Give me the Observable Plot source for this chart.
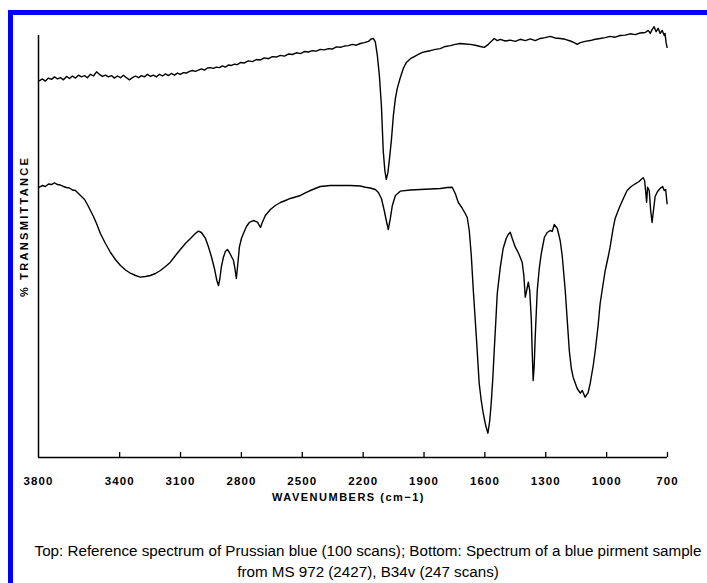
<!DOCTYPE html>
<html><head><meta charset="utf-8">
<script src="https://cdn.jsdelivr.net/npm/d3@7"></script>
<script src="https://cdn.jsdelivr.net/npm/@observablehq/plot@0.6"></script>
<style>
html,body{margin:0;padding:0;width:707px;height:583px;overflow:hidden;background:#fff;}
#frame{position:absolute;left:8px;top:9.5px;width:900px;height:900px;border-top:5px solid #0000ff;border-left:5px solid #0000ff;}
#chart{position:absolute;left:0;top:0;}
#caption{position:absolute;left:30px;width:676px;top:540px;text-align:center;font:15.2px/21px "Liberation Sans",Arial,sans-serif;white-space:nowrap;color:#000;}
</style></head><body>
<div id="frame"></div>
<div id="chart"></div>
<div id="caption">Top: Reference spectrum of Prussian blue (100 scans); Bottom: Spectrum of a blue pirment sample<br>from MS 972 (2427), B34v (247 scans)</div>
<script>
const xTicks = [3800,3400,3100,2800,2500,2200,1900,1600,1300,1000,700];
const xLabel = "WAVENUMBERS (cm\u22121)";
const yLabel = "% TRANSMITTANCE";

const topWavenumbers = [3795,3780,3766,3751,3736,3721,3706,3692,3677,3662,3647,3633,3618,3603,3588,3573,3559,3544,3529,3514,3500,3485,3470,3455,3440,3426,3411,3396,3381,3367,3352,3337,3322,3307,3293,3278,3263,3248,3234,3219,3204,3189,3174,3160,3145,3130,3115,3101,3086,3071,3056,3041,3027,3012,2997,2982,2967,2953,2938,2923,2908,2894,2879,2864,2849,2834,2820,2805,2785,2766,2746,2726,2706,2687,2667,2647,2628,2608,2588,2569,2549,2529,2509,2490,2470,2450,2431,2411,2391,2371,2352,2332,2312,2293,2273,2253,2234,2214,2194,2174,2160,2150,2140,2130,2120,2110,2101,2093,2086,2078,2071,2061,2051,2041,2032,2017,2002,1987,1967,1948,1928,1908,1889,1869,1844,1820,1795,1770,1746,1721,1696,1672,1647,1623,1603,1583,1564,1554,1539,1524,1500,1475,1450,1426,1401,1376,1352,1327,1303,1278,1253,1229,1204,1179,1160,1145,1130,1106,1081,1056,1032,1007,983,958,933,909,884,859,835,810,795,785,776,766,756,746,736,726,716,712,707,702];
const topTransmittance = [89.3,89.7,89.2,89.9,89.6,90.2,89.7,90.0,89.5,90.3,89.8,90.4,89.9,90.6,90.2,90.5,90.0,90.8,90.4,91.4,90.8,90.3,90.6,90.2,90.5,89.9,90.4,90.0,90.6,90.0,89.5,90.0,90.4,90.0,90.5,90.2,90.8,90.3,90.6,90.2,90.8,90.4,90.9,90.5,91.0,90.6,91.1,90.8,91.2,91.1,91.5,91.7,91.5,91.8,92.1,91.8,92.3,92.4,92.2,92.5,92.4,92.8,92.5,93.0,92.9,93.2,93.1,93.6,93.5,94.0,93.8,94.3,94.2,94.7,94.5,95.0,94.9,95.3,95.1,95.6,95.5,95.9,95.7,96.2,96.1,96.4,96.3,96.7,96.6,96.9,96.8,97.3,97.2,97.5,97.6,97.9,97.7,98.1,98.3,98.6,99.2,99.3,98.5,95.3,90.5,83.4,72.7,68.0,65.9,67.5,70.4,75.1,81.0,85.1,87.4,90.0,92.2,93.6,94.5,95.0,95.5,96.0,96.2,96.4,96.7,96.9,97.4,97.6,97.9,98.1,98.0,97.9,97.7,97.4,97.2,97.9,98.8,99.3,98.8,99.1,98.7,98.9,98.6,99.1,98.8,99.2,98.8,99.3,99.5,99.8,99.4,99.3,99.1,98.7,98.3,97.9,98.3,98.6,98.8,99.1,99.3,99.5,99.8,99.6,100.0,100.1,100.4,100.2,100.6,100.7,101.2,100.5,101.4,102.1,100.9,101.7,100.5,101.2,100.0,100.5,98.3,97.2];

const bottomWavenumbers = [3795,3780,3766,3751,3736,3721,3706,3692,3677,3662,3647,3633,3618,3603,3588,3573,3559,3544,3529,3514,3495,3470,3445,3421,3396,3371,3347,3322,3298,3273,3248,3224,3199,3174,3150,3125,3101,3076,3051,3027,3012,2997,2977,2963,2948,2933,2921,2913,2906,2899,2889,2879,2869,2859,2849,2839,2832,2825,2817,2810,2800,2790,2775,2761,2741,2721,2706,2697,2682,2657,2633,2608,2583,2559,2534,2509,2485,2460,2436,2411,2386,2362,2312,2263,2214,2189,2165,2140,2125,2110,2096,2086,2076,2066,2056,2041,2017,1967,1918,1869,1820,1785,1761,1746,1731,1711,1697,1687,1677,1667,1657,1642,1628,1618,1608,1596,1585,1576,1569,1561,1554,1546,1539,1524,1510,1495,1485,1475,1465,1450,1436,1426,1416,1408,1401,1394,1386,1379,1371,1367,1362,1357,1352,1342,1332,1322,1307,1293,1278,1268,1258,1243,1229,1219,1204,1194,1184,1174,1165,1145,1130,1120,1106,1091,1081,1066,1056,1042,1032,1017,1007,992,983,968,958,943,933,913,899,879,859,840,830,820,813,808,803,798,790,783,776,768,761,751,741,731,724,716,709,702];
const bottomTransmittance = [64.05,64.46,64.22,64.81,64.69,65.05,64.69,64.57,64.22,63.98,63.86,63.39,63.27,62.56,61.85,61.14,59.95,58.53,57.11,55.45,53.08,50.71,48.58,46.92,45.50,44.43,43.67,43.13,42.73,42.89,43.13,43.60,44.31,45.26,46.28,47.87,49.29,50.71,51.90,53.08,53.63,53.32,51.90,50.00,47.63,44.79,41.94,40.76,42.42,45.10,47.39,48.82,49.29,48.58,47.63,46.68,44.79,42.42,46.21,49.84,51.90,53.08,54.74,55.69,56.16,55.76,54.50,55.69,57.35,58.77,59.72,60.43,60.90,61.38,61.73,62.09,62.68,63.27,63.74,64.22,64.34,64.46,64.46,64.46,64.34,64.05,63.86,63.51,62.80,61.38,58.53,56.16,54.03,56.64,59.72,62.09,63.11,63.39,63.51,63.63,63.74,63.98,64.05,62.56,60.43,59.01,57.82,56.87,53.79,47.87,39.57,28.51,17.54,13.51,10.43,7.58,5.76,8.77,12.80,18.72,25.36,32.46,38.86,45.10,49.53,51.90,52.84,53.39,51.90,49.84,48.58,47.47,46.21,43.13,37.99,39.57,41.54,39.57,32.46,25.36,18.25,21.80,28.51,39.57,44.79,48.34,52.13,53.32,53.79,53.56,55.21,54.27,51.42,47.87,39.57,32.46,25.36,21.09,19.03,16.35,15.24,15.88,14.29,15.40,17.54,21.80,25.36,31.28,36.49,41.23,44.31,47.63,49.84,54.27,56.64,58.53,59.72,61.85,63.27,64.22,64.86,65.40,65.88,66.28,65.64,63.27,60.50,64.05,63.27,58.53,55.69,59.01,61.85,62.87,63.51,63.98,64.22,63.27,63.51,60.12];

const topData = topWavenumbers.map((w, i) => ({w, t: topTransmittance[i]}));
const bottomData = bottomWavenumbers.map((w, i) => ({w, t: bottomTransmittance[i]}));

const font = "'Liberation Sans', Arial, sans-serif";
const chart = Plot.plot({
  width: 707,
  height: 510,
  marginLeft: 38,
  marginRight: 40,
  marginTop: 35,
  marginBottom: 53,
  style: {fontFamily: font, background: "transparent", overflow: "visible"},
  x: {type: "linear", domain: [3800, 700]},
  y: {domain: [0, 100], axis: null},
  marks: [
    Plot.ruleY([0], {x1: 3800, x2: 700, stroke: "black", strokeWidth: 1.5}),
    Plot.ruleX([3800], {y1: 0, y2: 100, stroke: "black", strokeWidth: 1.5}),
    Plot.ruleX(xTicks.slice(1), {x: d => d, y1: 0, y2: 1.2, stroke: "black", strokeWidth: 1.3}),
    Plot.axisX({ticks: xTicks, tickSize: 0, tickPadding: 19.5, tickFormat: d => String(d), label: null,
      fontSize: 11.5, fontWeight: "bold"}),
    Plot.text([xLabel], {frameAnchor: "bottom", dx: -4.5, dy: 35.7, lineAnchor: "top", textAnchor: "middle",
      fontSize: 11, fontWeight: "bold"}),
    Plot.text([yLabel], {frameAnchor: "left", rotate: -90, dx: -14, dy: -20, textAnchor: "middle", lineAnchor: "middle",
      fontSize: 11, fontWeight: "bold"}),
    Plot.line(topData, {x: "w", y: "t", stroke: "black", strokeWidth: 1.4}),
    Plot.line(bottomData, {x: "w", y: "t", stroke: "black", strokeWidth: 1.4})
  ]
});
const tickStrings = xTicks.map(String);
d3.select(chart).selectAll("text").each(function () {
  const t = this.textContent;
  if (tickStrings.includes(t)) this.style.letterSpacing = "1.1px";
  else if (t === xLabel) this.style.letterSpacing = "1.5px";
  else if (t === yLabel) this.style.letterSpacing = "2.3px";
});
document.getElementById("chart").appendChild(chart);
</script>
</body></html>
